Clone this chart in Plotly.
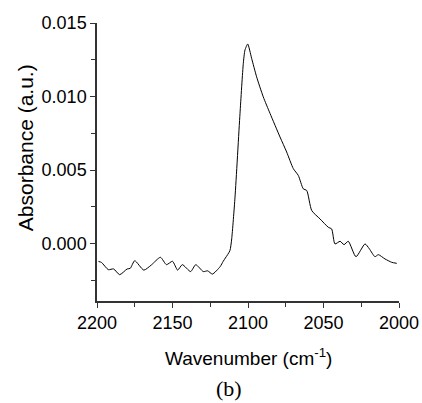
import plotly.graph_objects as go

wavenumber = [2199, 2197, 2192.5, 2189, 2185, 2180, 2178, 2175, 2169, 2164, 2158, 2154, 2150,
              2146.6, 2143.5, 2138, 2134.6, 2129.6, 2126.7, 2123.6, 2118.5, 2116.4, 2115, 2112,
              2110.8, 2108.6, 2105.3, 2103.1, 2102, 2100.2, 2097.6, 2094.3, 2089.9, 2085.4,
              2078.8, 2074.4, 2070, 2066.7, 2063.4, 2061.1, 2057.8, 2052.3, 2046.8, 2044.6,
              2042.4, 2039, 2036.4, 2033.6, 2028.5, 2022.5, 2019.6, 2015.9, 2013.7, 2009.3,
              2004.8, 2001.5]
absorbance = [-0.00121, -0.00128, -0.00177, -0.00172, -0.00211, -0.00172, -0.00168, -0.00116,
              -0.0018, -0.00145, -0.00093, -0.00143, -0.00120, -0.0018, -0.00143, -0.0019,
              -0.00143, -0.0019, -0.00185, -0.00207, -0.00157, -0.00120, -0.00098, -0.00048,
              0.00032, 0.00316, 0.00885, 0.01226, 0.01316, 0.01357, 0.0126, 0.01134, 0.00998,
              0.00885, 0.00725, 0.00623, 0.0051, 0.00464, 0.00373, 0.00361, 0.00225, 0.00168,
              0.00111, 0.001, -0.00002, 0.00016, -0.00007, 0.00016, -0.00089, -0.00002,
              -0.00036, -0.00089, -0.00075, -0.00104, -0.00127, -0.00134]

fig = go.Figure(go.Scatter(x=wavenumber, y=absorbance, mode="lines",
                           line=dict(color="black", width=1, shape="spline", smoothing=0.6)))

axis_common = dict(showline=True, linecolor="#333333", linewidth=1.5, ticks="outside",
                   ticklen=5, tickwidth=1, tickcolor="#333333", showgrid=False, zeroline=False,
                   tickfont=dict(family="Liberation Sans, Arial", size=18, color="black"),
                   mirror=False, automargin=False)

fig.update_xaxes(range=[2200, 2000], dtick=50, tick0=2000,
                 minor=dict(dtick=25, ticks="outside", ticklen=4, tickcolor="#333333"),
                 **axis_common)
fig.update_yaxes(range=[-0.0039, 0.015], dtick=0.005, tick0=0, tickformat=".3f",
                 minor=dict(dtick=0.0025, ticks="outside", ticklen=4, tickcolor="#333333"),
                 **axis_common)

fig.update_layout(
    width=422, height=403,
    margin=dict(l=97, r=23, t=23, b=102),
    plot_bgcolor="white", paper_bgcolor="white",
    showlegend=False,
    annotations=[
        dict(text="Absorbance (a.u.)", x=-0.238, y=0.55, xref="paper", yref="paper",
             showarrow=False, textangle=-90, xanchor="center", yanchor="middle",
             font=dict(family="Liberation Sans, Arial", size=21, color="black")),
        dict(text="Wavenumber (cm<sup>-1</sup>)", x=0.503, y=-0.201, xref="paper", yref="paper",
             showarrow=False, xanchor="center", yanchor="middle",
             font=dict(family="Liberation Sans, Arial", size=19, color="black")),
        dict(text="(b)", x=0.437, y=-0.313, xref="paper", yref="paper",
             showarrow=False, xanchor="center", yanchor="middle", borderpad=0,
             font=dict(family="Liberation Serif, Times New Roman", size=22, color="black")),
    ],
)

fig.write_html("out.html")
